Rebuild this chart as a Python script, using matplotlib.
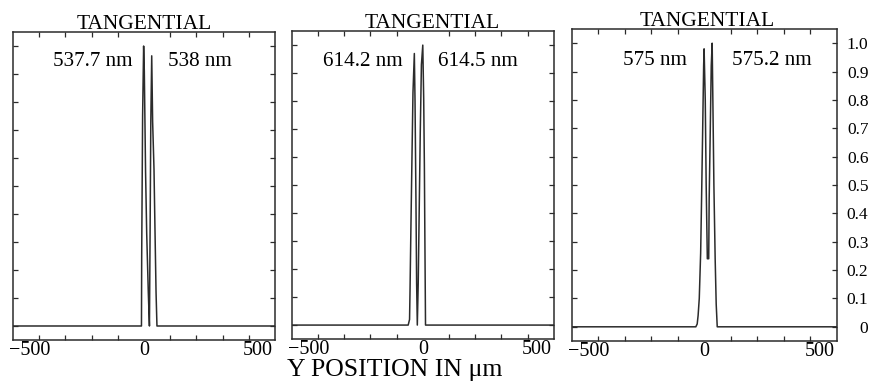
import matplotlib
matplotlib.use("Agg")
import matplotlib.pyplot as plt
from matplotlib.ticker import FixedLocator, NullFormatter

plt.rcParams["font.family"] = ["Liberation Serif", "DejaVu Serif"]

# line spread functions, Y position in um vs relative intensity
POS_1 = [-575, -11, -10, -6, -1.5, 1.5, 7, 12, 19, 24, 27, 30, 34, 38, 44, 48, 53, 57, 575]
VAL_1 = [0, 0, 0.25, 0.75, 1.0, 0.91, 0.55, 0.33, 0.12, 0.0, 0.35, 0.73, 0.965, 0.73, 0.56, 0.36, 0.12, 0, 0]

POS_2 = [-575, -64, -58, -56, -52, -47, -43, -37, -34, -30, -27, -24, -20, -15, -11, -6, 0, 4, 7, 9, 12, 575]
VAL_2 = [0, 0, 0.02, 0.12, 0.35, 0.62, 0.83, 0.97, 0.8, 0.45, 0.15, 0.0, 0.15, 0.45, 0.69, 0.93, 1.0, 0.81, 0.57, 0.33, 0, 0]

POS_3 = [-575, -36, -30, -26, -21, -15, -11, -6.5, -2, 0, 5, 9, 14, 20, 22, 26.5, 31, 35, 38, 42.5, 48, 52.5, 57, 575]
VAL_3 = [0, 0, 0.01, 0.04, 0.1, 0.26, 0.45, 0.68, 0.92, 0.98, 0.8, 0.5, 0.24, 0.24, 0.45, 0.68, 0.92, 1.0, 0.8, 0.5, 0.24, 0.08, 0, 0]

PEAK_LABELS = [("537.7 nm", "538 nm"), ("614.2 nm", "614.5 nm"), ("575 nm", "575.2 nm")]
TITLE = "TANGENTIAL"
XLABEL = "Y POSITION IN μm"
X_TICKS = [-500, 0, 500]
Y_TICKS = [0, 0.1, 0.2, 0.3, 0.4, 0.5, 0.6, 0.7, 0.8, 0.9, 1.0]
Y_TICK_LABELS = ["0", "0.1", "0.2", "0.3", "0.4", "0.5", "0.6", "0.7", "0.8", "0.9", "1.0"]

PANELS = [(POS_1, VAL_1), (POS_2, VAL_2), (POS_3, VAL_3)]
AX_RECTS = [(0.0147, 0.1146, 0.2967, 0.802),
            (0.3303, 0.117, 0.297, 0.802),
            (0.6474, 0.112, 0.300, 0.8125)]
# where the wavelength labels sit (data coords: right edge of left label, left edge of right label)
LABEL_SPOTS = [(-48, 105, 0.946), (-87, 67, 0.943), (-75, 121, 0.94)]
TITLE_X = [0.5, 0.536, 0.51]

XLIM = 575
LINE = "#2b2b2b"

fig = plt.figure(figsize=(8.83, 3.84), dpi=100)

for i, ((pos, val), rect) in enumerate(zip(PANELS, AX_RECTS)):
    ax = fig.add_axes(rect)
    ax.plot(pos, val, color=LINE, linewidth=1.1)
    ax.set_xlim(-XLIM, XLIM)
    ax.set_ylim(-0.05, 1.05)

    # division marks every tenth of the range, labels only at -500/0/500
    ax.xaxis.set_major_locator(FixedLocator(X_TICKS))
    ax.xaxis.set_minor_locator(FixedLocator([-XLIM + k * 2 * XLIM / 10 for k in range(1, 10)]))
    ax.xaxis.set_minor_formatter(NullFormatter())
    ax.tick_params(axis="x", which="major", length=0, pad=0.5, labelsize=14.5)
    ax.tick_params(axis="x", which="minor", direction="in", length=3.5, width=0.9,
                   top=True, bottom=True, color=LINE)

    ax.set_yticks(Y_TICKS)
    ax.tick_params(axis="y", direction="in", length=3.5, width=0.9, left=True, right=True,
                   labelleft=False, labelright=False, color=LINE)
    if i == 2:
        ax.set_yticklabels(Y_TICK_LABELS)
        ax.tick_params(axis="y", labelright=True, labelsize=12.5, pad=23)
        for lab in ax.get_yticklabels():
            lab.set_horizontalalignment("right")

    for sp in ax.spines.values():
        sp.set_linewidth(1.1)
        sp.set_color(LINE)

    ax.set_title(TITLE, fontsize=15.5, x=TITLE_X[i], pad=2)

    left_lab, right_lab = PEAK_LABELS[i]
    xl, xr, yl = LABEL_SPOTS[i]
    ax.text(xl, yl, left_lab, ha="right", va="center", fontsize=15.2)
    ax.text(xr, yl, right_lab, ha="left", va="center", fontsize=15.2)

fig.text(0.447, 0.021, XLABEL, ha="center", va="baseline", fontsize=18.5)

fig.savefig("out.png", dpi=100)
